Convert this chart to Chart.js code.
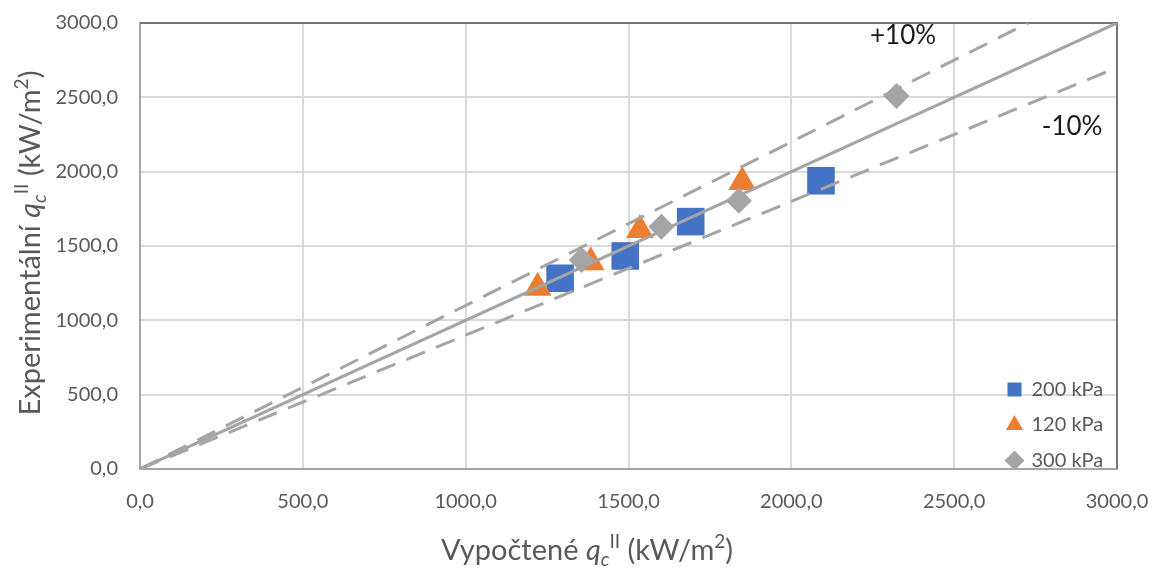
<!DOCTYPE html>
<html lang="cs">
<head>
<meta charset="UTF-8">
<title>qc</title>
<script src="https://cdn.jsdelivr.net/npm/chart.js"></script>
<style>
  body { margin: 0; background: #ffffff; }
  #wrap { width: 1154px; height: 574px; }
</style>
</head>
<body>
<div id="wrap"><canvas id="chart" width="1154" height="574"></canvas></div>
<script>
// data
const calc200 = [1290, 1490, 1691, 2091];
const exp200 = [1283, 1433, 1664, 1939];
const calc120 = [1221, 1384, 1535, 1849];
const exp120 = [1220, 1390, 1608, 1930];
const calc300 = [1356, 1601, 1839, 2323];
const exp300 = [1406, 1630, 1805, 2509];

// reference lines
const refX = [0, 3000];
const refY = [0, 3000];
const plusX = [0, 2727];
const plusY = [0, 3000];
const minusX = [0, 3000];
const minusY = [0, 2700];

const seriesNames = ['200 kPa', '120 kPa', '300 kPa'];
const noteText = ['+10%', '-10%'];
const noteX = [2343, 2862];
const noteY = [2912, 2300];

const FONT = 'Lato';
const GREY_TXT = '#595959';

function pts(xs, ys) {
  return xs.map((x, i) => ({ x: x, y: ys[i] }));
}
function fmt(v) {
  return Number(v).toFixed(1).replace('.', ',');
}

// text with italic q, subscript c and superscripts
function richText(ctx, parts, cx, cy, size) {
  let w = 0;
  parts.forEach(p => {
    const s = p.pos ? size * 0.66 : size;
    ctx.font = (p.it ? 'italic ' : '') + s + 'px ' + FONT;
    p.w = ctx.measureText(p.t).width;
    w += p.w;
  });
  let x = cx - w / 2;
  ctx.textBaseline = 'middle';
  ctx.textAlign = 'left';
  parts.forEach(p => {
    const s = p.pos ? size * 0.66 : size;
    ctx.font = (p.it ? 'italic ' : '') + s + 'px ' + FONT;
    let dy = 0;
    if (p.pos === 'sub') dy = size * 0.3;
    if (p.pos === 'sup') dy = -size * 0.32;
    ctx.fillText(p.t, x, cy + dy);
    x += p.w;
  });
}

const extras = {
  id: 'extras',
  afterLayout(chart) {
    // put legend inside plot, bottom right
    const lg = chart.legend;
    const ca = chart.chartArea;
    lg.left = 992;
    lg.right = lg.left + lg.width;
    lg.top = ca.top;
    lg.bottom = ca.bottom + 17;
  },
  beforeDatasetsDraw(chart) {
    const { ctx, chartArea: ca } = chart;
    ctx.save();
    ctx.strokeStyle = '#767676';
    ctx.lineWidth = 2;
    ctx.beginPath();
    ctx.moveTo(ca.left, ca.top);
    ctx.lineTo(ca.right, ca.top);
    ctx.lineTo(ca.right, ca.bottom);
    ctx.stroke();
    ctx.restore();
  },
  afterDraw(chart) {
    const { ctx } = chart;
    const xs = chart.scales.x, ys = chart.scales.y;
    ctx.save();
    ctx.fillStyle = '#1a1a1a';
    ctx.font = '26px ' + FONT;
    ctx.textAlign = 'center';
    ctx.textBaseline = 'middle';
    noteText.forEach((t, i) => {
      ctx.fillText(t, xs.getPixelForValue(noteX[i]), ys.getPixelForValue(noteY[i]));
    });

    ctx.fillStyle = GREY_TXT;
    richText(ctx, [
      { t: 'Vypočtené ' }, { t: 'q', it: true }, { t: 'c', it: true, pos: 'sub' },
      { t: 'II', pos: 'sup' }, { t: ' (kW/m' }, { t: '2', pos: 'sup' }, { t: ')' }
    ], 587, 551, 29);

    ctx.translate(31, 243);
    ctx.rotate(-Math.PI / 2);
    richText(ctx, [
      { t: 'Experimentální ' }, { t: 'q', it: true }, { t: 'c', it: true, pos: 'sub' },
      { t: 'II', pos: 'sup' }, { t: ' (kW/m' }, { t: '2', pos: 'sup' }, { t: ')' }
    ], 0, 0, 29);
    ctx.restore();
  }
};

const lineStyle = {
  type: 'line',
  borderColor: '#a5a5a5',
  borderWidth: 3,
  pointRadius: 0,
  fill: false,
  order: 0
};

new Chart(document.getElementById('chart'), {
  type: 'scatter',
  data: {
    datasets: [
      {
        label: seriesNames[0], data: pts(calc200, exp200),
        pointStyle: 'rect', pointRadius: 19.5, pointHoverRadius: 19.5,
        backgroundColor: '#4472c4', borderWidth: 0, order: 13
      },
      {
        label: seriesNames[1], data: pts(calc120, exp120),
        pointStyle: 'triangle', pointRadius: 16, pointHoverRadius: 16,
        backgroundColor: '#ed7d31', borderWidth: 0, order: 12
      },
      {
        label: seriesNames[2], data: pts(calc300, exp300),
        pointStyle: 'rectRot', pointRadius: 13, pointHoverRadius: 13,
        backgroundColor: '#a5a5a5', borderWidth: 0, order: 11
      },
      Object.assign({ label: 'ref', data: pts(refX, refY) }, lineStyle),
      Object.assign({ label: 'plus', data: pts(plusX, plusY), borderDash: [20, 12] }, lineStyle),
      Object.assign({ label: 'minus', data: pts(minusX, minusY), borderDash: [20, 12] }, lineStyle)
    ]
  },
  options: {
    responsive: false,
    animation: false,
    layout: { padding: { top: 23, right: 37, left: 0, bottom: 0 } },
    scales: {
      x: {
        type: 'linear', min: 0, max: 3000,
        ticks: { stepSize: 500, padding: 21, color: GREY_TXT, font: { family: FONT, size: 20 }, callback: fmt },
        grid: { color: '#d9d9d9', lineWidth: 2, drawTicks: false },
        border: { color: '#a6a6a6', width: 2 },
        afterFit(s) { s.height = 105; s.paddingLeft = 0; s.paddingRight = 0; }
      },
      y: {
        type: 'linear', min: 0, max: 3000,
        ticks: { stepSize: 500, padding: 22, color: GREY_TXT, font: { family: FONT, size: 20 }, callback: fmt },
        grid: { color: '#d9d9d9', lineWidth: 2, drawTicks: false },
        border: { color: '#a6a6a6', width: 2 },
        afterFit(s) { s.width = 140; s.paddingTop = 0; s.paddingBottom = 0; }
      }
    },
    plugins: {
      tooltip: { enabled: false },
      legend: {
        position: 'chartArea',
        align: 'end',
        labels: {
          usePointStyle: true,
          boxWidth: 14,
          boxHeight: 14,
          padding: 15.5,
          color: GREY_TXT,
          font: { family: FONT, size: 20 },
          filter: item => seriesNames.includes(item.text),
          sort: (a, b) => a.datasetIndex - b.datasetIndex
        }
      }
    }
  },
  plugins: [extras]
});
</script>
</body>
</html>
